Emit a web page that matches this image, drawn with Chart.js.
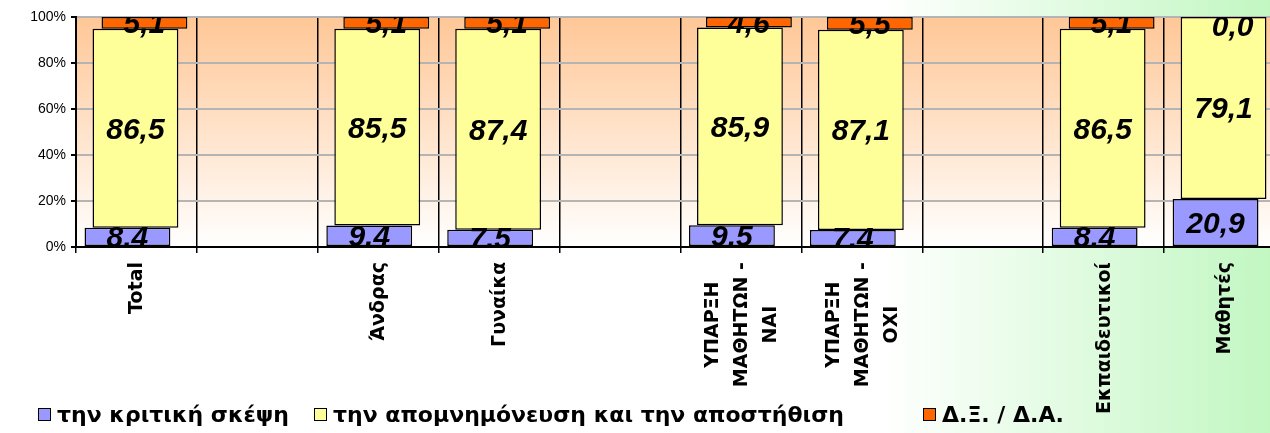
<!DOCTYPE html>
<html>
<head>
<meta charset="utf-8">
<script src="https://cdn.jsdelivr.net/npm/chart.js@4.4.1/dist/chart.umd.min.js"></script>
<style>
    html, body {
        margin: 0;
        padding: 0;
        width: 1270px;
        height: 433px;
        overflow: hidden;
        background: linear-gradient(to right, #ffffff 0px, #ffffff 880px, #c2f7c2 1270px);
    }
    #chartOpiniones {
        position: absolute;
        left: 0;
        top: 0;
    }
</style>
</head>
<body>
<canvas id="chartOpiniones" width="1290" height="433"></canvas>
<script>
// categorias (las vacias son huecos del grafico original)
const categorias = [
    'Total',
    '',
    'Άνδρας',
    'Γυναίκα',
    '',
    ['ΥΠΑΡΞΗ', 'ΜΑΘΗΤΩΝ -', 'ΝΑΙ'],
    ['ΥΠΑΡΞΗ', 'ΜΑΘΗΤΩΝ -', 'ΟΧΙ'],
    '',
    'Εκπαιδευτικοί',
    'Μαθητές'
];

const series = [
    'την κριτική σκέψη',
    'την απομνημόνευση και την αποστήθιση',
    'Δ.Ξ. / Δ.Α.'
];

const kritiki = [8.4, null, 9.4, 7.5, null, 9.5, 7.4, null, 8.4, 20.9];
const apomnimonefsi = [86.5, null, 85.5, 87.4, null, 85.9, 87.1, null, 86.5, 79.1];
const dxda = [5.1, null, 5.1, 5.1, null, 4.6, 5.5, null, 5.1, 0.0];

const yTicks = [0, 20, 40, 60, 80, 100];

const colores = ['#9999ff', '#ffff99', '#ff6600'];
const desplazamientos = [-9, -1, 8];   // desplazamiento horizontal de cada serie (px)
const legendaX = [38, 314, 923];

const canvas = document.getElementById('chartOpiniones');
const context = canvas.getContext('2d');

const fondoPlot = {
    id: 'fondoPlot',
    beforeDraw(chart) {
        const { ctx, chartArea: a } = chart;
        const g = ctx.createLinearGradient(0, a.top, 0, a.bottom);
        g.addColorStop(0, '#ffc796');
        g.addColorStop(1, '#ffffff');
        ctx.save();
        ctx.fillStyle = g;
        ctx.fillRect(a.left, a.top, a.right - a.left, a.bottom - a.top);
        ctx.restore();
    }
};

const desplazarBarras = {
    id: 'desplazarBarras',
    afterDatasetsUpdate(chart) {
        chart.data.datasets.forEach((ds, i) => {
            chart.getDatasetMeta(i).data.forEach(el => { el.x += desplazamientos[i]; });
        });
    }
};

const etiquetasDatos = {
    id: 'etiquetasDatos',
    afterDatasetsDraw(chart) {
        const { ctx, chartArea: a } = chart;
        ctx.save();
        ctx.beginPath();
        ctx.rect(a.left, a.top, a.right - a.left, a.bottom - a.top);
        ctx.clip();
        ctx.font = 'bold italic 30px "Liberation Sans", Arial, sans-serif';
        ctx.fillStyle = '#000';
        ctx.textAlign = 'center';
        ctx.textBaseline = 'alphabetic';
        chart.data.datasets.forEach((ds, i) => {
            chart.getDatasetMeta(i).data.forEach((el, j) => {
                const v = ds.data[j];
                if (v === null || v === undefined) return;
                let y = (el.y + el.base) / 2;
                if (Math.abs(el.base - el.y) < 2) y = el.y + 8;
                ctx.fillText(v.toFixed(1).replace('.', ','), el.x, y + 10.5);
            });
        });
        ctx.restore();
    }
};

const etiquetasX = {
    id: 'etiquetasX',
    afterDraw(chart) {
        const { ctx, chartArea: a } = chart;
        const x = chart.scales.x;
        ctx.save();
        ctx.font = 'bold 19px "DejaVu Sans", sans-serif';
        ctx.fillStyle = '#000';
        ctx.textAlign = 'center';
        ctx.textBaseline = 'middle';
        const alto = 29;
        categorias.forEach((c, i) => {
            const lineas = Array.isArray(c) ? c : [c];
            if (!lineas[0]) return;
            const ancho = Math.max(...lineas.map(l => ctx.measureText(l).width));
            const px = x.getPixelForTick(i);
            const cy = a.bottom + 15 + ancho / 2;
            lineas.forEach((l, k) => {
                ctx.save();
                ctx.translate(px + (k - (lineas.length - 1) / 2) * alto, cy);
                ctx.rotate(-Math.PI / 2);
                ctx.fillText(l, 0, 1);
                ctx.restore();
            });
        });
        ctx.restore();
    }
};

const leyenda = {
    id: 'leyenda',
    afterDraw(chart) {
        const { ctx } = chart;
        ctx.save();
        ctx.font = 'bold 22px "DejaVu Sans", sans-serif';
        ctx.textBaseline = 'alphabetic';
        ctx.textAlign = 'left';
        chart.data.datasets.forEach((ds, i) => {
            const lx = legendaX[i];
            ctx.fillStyle = ds.backgroundColor;
            ctx.fillRect(lx, 408, 13, 13);
            ctx.strokeStyle = '#000';
            ctx.lineWidth = 1;
            ctx.strokeRect(lx + 0.5, 408.5, 12, 12);
            ctx.fillStyle = '#000';
            ctx.fillText(ds.label, lx + 19, 422);
        });
        ctx.restore();
    }
};

const hacerSerie = (i, datos) => ({
    label: series[i],
    data: datos,
    backgroundColor: colores[i],
    borderColor: '#000',
    borderWidth: 1.5,
    borderSkipped: false,
    barPercentage: 0.71,
    categoryPercentage: 1
});

const chartOpiniones = new Chart(context, {
    type: 'bar',
    data: {
        labels: categorias,
        datasets: [
            hacerSerie(0, kritiki),
            hacerSerie(1, apomnimonefsi),
            hacerSerie(2, dxda)
        ]
    },
    options: {
        responsive: false,
        animation: false,
        devicePixelRatio: 1,
        layout: { padding: { top: 17, right: 5, left: 0, bottom: 0 } },
        plugins: {
            legend: { display: false },
            tooltip: { enabled: false }
        },
        scales: {
            x: {
                stacked: true,
                offset: true,
                afterFit: s => { s.height = 186; },
                ticks: { display: false },
                grid: {
                    offset: true,
                    color: '#000',
                    lineWidth: 1.5,
                    tickLength: 6,
                    tickColor: '#000'
                },
                border: { color: '#000', width: 2 }
            },
            y: {
                stacked: true,
                min: 0,
                max: 100,
                afterFit: s => { s.width = 76; },
                afterBuildTicks: s => { s.ticks = yTicks.map(v => ({ value: v })); },
                ticks: {
                    callback: v => v + '%',
                    color: '#000',
                    padding: 5,
                    font: { family: '"Liberation Sans", Arial, sans-serif', size: 14 }
                },
                grid: {
                    color: '#b4b4b4',
                    lineWidth: 2,
                    tickLength: 5,
                    tickColor: '#000'
                },
                border: { color: '#000', width: 2 }
            }
        }
    },
    plugins: [fondoPlot, desplazarBarras, etiquetasDatos, etiquetasX, leyenda]
});
</script>
</body>
</html>
